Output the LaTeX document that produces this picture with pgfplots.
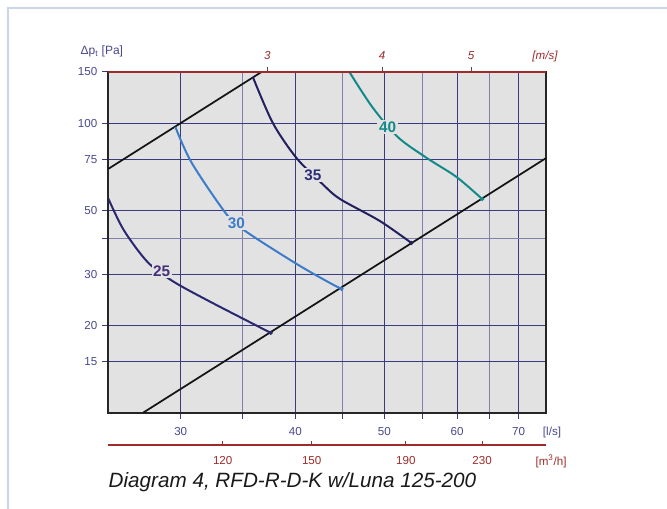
\documentclass[border=0pt]{standalone}
\usepackage{fontspec}
\setmainfont{Liberation Sans}
\usepackage{pgfplots}
\pgfplotsset{compat=1.18}

\definecolor{cbg}{HTML}{E2E2E2}
\definecolor{cgridA}{HTML}{3A3A7E}
\definecolor{cgridB}{HTML}{8080AE}
\definecolor{ctick}{HTML}{48488F}
\definecolor{cred}{HTML}{9E2A2A}
\definecolor{cframe}{HTML}{CBD5EA}
\definecolor{cline}{HTML}{141414}
\definecolor{cA}{HTML}{2B2870}
\definecolor{cAl}{HTML}{46307A}
\definecolor{cB}{HTML}{3D7CC9}
\definecolor{cC}{HTML}{22205E}
\definecolor{cCl}{HTML}{2E2E78}
\definecolor{cD}{HTML}{138A8A}

\newcommand\fs{\fontsize{8.7bp}{10bp}\selectfont}
\newcommand\fl{\fontsize{11.5bp}{13bp}\selectfont\bfseries}

\pgfplotsset{
  base/.style={
    width=328.5bp, height=255.75bp, scale only axis,
    clip mode=individual,
  },
}

\begin{document}
\begin{tikzpicture}
\useasboundingbox (-81bp,-72bp) rectangle (419.25bp,309.75bp);
\draw[cframe, line width=1.5bp] (-75bp,-72bp) -- (-75bp,303.75bp) -- (419.25bp,303.75bp);

% main chart, l/s against Pa
\begin{axis}[base,
  xmode=log, ymode=log,
  xmin=25, xmax=75, ymin=10, ymax=150,
  xtick={30,40,50,60,70}, xticklabels={30,40,50,60,70},
  minor xtick={35,45,55,65},
  ytick={15,20,30,50,75,100,150}, yticklabels={15,20,30,50,75,100,150},
  minor ytick={40},
  grid=both,
  major grid style={cgridA, line width=0.75bp},
  minor grid style={cgridB, line width=0.75bp},
  axis background/.style={fill=cbg},
  axis line style={black!85, line width=1bp},
  tick align=outside, xtick pos=bottom, ytick pos=left,
  major tick length=4.5bp, minor tick length=4.5bp,
  tick style={cgridA, line width=0.75bp},
  xticklabel style={text=ctick, font=\fs, yshift=-2.5bp},
  yticklabel style={text=ctick, font=\fs},
]
% system lines
\addplot[cline, line width=1.3bp] coordinates {(25,69.4) (36.74,150)};
\addplot[cline, line width=1.3bp] coordinates {(27.27,10) (75,75.7)};

% 25
\addplot[cA, line width=1.5bp, smooth] coordinates {
  (25,55.2) (26.0,42.8) (27.6,33.2) (29.4,28.5) (32.3,24.2) (37.6,18.9)};
% 30
\addplot[cB, line width=1.5bp, smooth] coordinates {
  (29.6,97.0) (30.85,72.8) (33.7,48.2) (35.4,42.1) (40.1,32.7) (43.6,28.1) (44.9,26.8)};
% 35
\addplot[cC, line width=1.5bp, smooth] coordinates {
  (35.95,144.2) (37.8,100) (40.1,75.8) (42.7,62.1) (44.7,54.8) (49.4,46.0) (53.5,38.6)};
% 40
\addplot[cD, line width=1.5bp, smooth] coordinates {
  (45.8,150) (48.5,113.6) (51.7,89.5) (55.6,75.8) (59.9,65.2) (63.9,54.7)};

% end dots
\addplot[only marks, mark=*, mark size=1.4bp, cA] coordinates {(37.6,18.9)};
\addplot[only marks, mark=*, mark size=1.4bp, cB] coordinates {(44.9,26.8)};
\addplot[only marks, mark=*, mark size=1.4bp, cC] coordinates {(53.5,38.6)};
\addplot[only marks, mark=*, mark size=1.4bp, cD] coordinates {(63.9,54.7)};

\node[fill=cbg, inner sep=1.2bp, text=cAl, font=\fl] at (axis cs:28.6,30.9) {25};
\node[fill=cbg, inner sep=1.2bp, text=cB, font=\fl] at (axis cs:34.5,45.2) {30};
\node[fill=cbg, inner sep=1.2bp, text=cCl, font=\fl] at (axis cs:41.8,66.2) {35};
\node[fill=cbg, inner sep=1.2bp, text=cD, font=\fl] at (axis cs:50.4,97.0) {40};

\node[anchor=base west, text=ctick, font=\fontsize{9bp}{10bp}\selectfont,
  xshift=-24bp, yshift=12.75bp] at (rel axis cs:0,1) {Δp\textsubscript{t} [Pa]};
\node[text=ctick, font=\fs, xshift=4.5bp, yshift=-15bp] at (rel axis cs:1,0) {[l/s]};
\node[text=cred, font=\fs, xshift=3.75bp, yshift=-36bp] at (rel axis cs:1,0) {[m\textsuperscript{3}/h]};
\node[anchor=base west, text=black!90, font=\fontsize{15.5bp}{18bp}\selectfont\itshape,
  xshift=-3bp, yshift=-56.25bp] at (rel axis cs:0,0) {Diagram 4, RFD-R-D-K w/Luna 125-200};
\end{axis}

% top scale, m/s
\begin{axis}[base,
  xmode=log, xmin=2.0110, xmax=6.0330, ymin=0, ymax=1,
  hide y axis, axis x line*=top,
  x axis line style={draw=cred, line width=1bp, -},
  xtick={3,4,5}, xticklabels={3,4,5}, xminorticks=false,
  tick align=outside, major tick length=4bp,
  tick style={black!70, line width=0.8bp},
  xticklabel style={text=cred, font=\fs\itshape, yshift=1.5bp},
]
\node[text=cred, font=\fs\itshape, xshift=-0.75bp, yshift=11.25bp] at (rel axis cs:1,1) {[m/s]};
\end{axis}

% bottom scale, m3/h
\begin{axis}[base, at={(0bp,-24bp)},
  xmode=log, xmin=90, xmax=270, ymin=0, ymax=1,
  hide y axis, axis x line*=bottom,
  x axis line style={draw=cred, line width=1bp, -},
  xtick={120,150,190,230}, xticklabels={120,150,190,230}, xminorticks=false,
  tick align=inside, major tick length=3bp,
  tick style={cred, line width=0.8bp},
  xticklabel style={text=cred, font=\fs, yshift=-5bp},
]
\end{axis}
\end{tikzpicture}
\end{document}
